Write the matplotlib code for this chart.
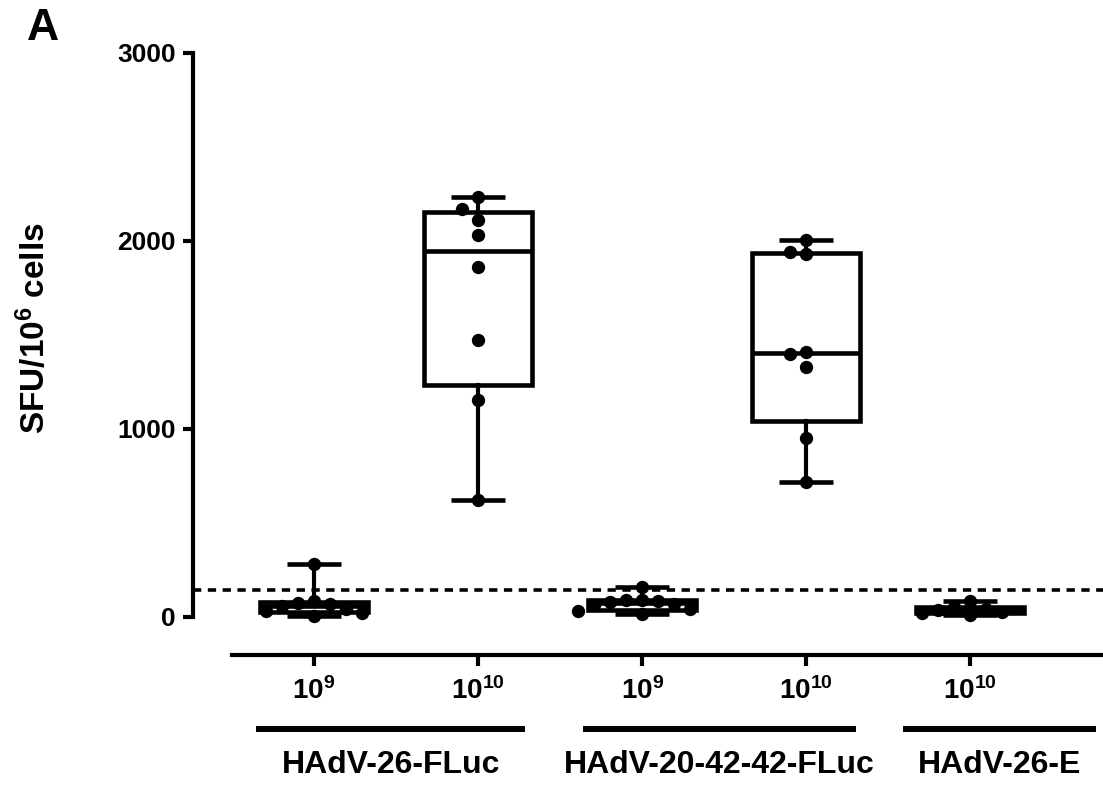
import numpy as np
import matplotlib.pyplot as plt

plt.rcParams['font.family'] = ['Liberation Sans', 'DejaVu Sans']
plt.rcParams['font.weight'] = 'bold'
plt.rcParams['mathtext.fontset'] = 'custom'
plt.rcParams['mathtext.rm'] = 'Liberation Sans:bold'
plt.rcParams['mathtext.it'] = 'Liberation Sans:bold'
plt.rcParams['mathtext.bf'] = 'Liberation Sans:bold'

# SFU / 10^6 cells per animal
g1 = [5, 21, 32, 43, 60, 69, 75, 85, 283]        # HAdV-26-FLuc 10^9
g2 = [622, 1154, 1473, 1862, 2032, 2112, 2170, 2234]  # HAdV-26-FLuc 10^10
g3 = [15, 30, 40, 62, 70, 78, 85, 88, 92, 160]   # HAdV-20-42-42-FLuc 10^9
g4 = [718, 950, 1330, 1398, 1410, 1930, 1941, 2005]  # HAdV-20-42-42-FLuc 10^10
g5 = [10, 20, 25, 35, 45, 55, 85]                # HAdV-26-E 10^10
groups = [g1, g2, g3, g4, g5]
dose_labels = ['$10^{9}$', '$10^{10}$', '$10^{9}$', '$10^{10}$', '$10^{10}$']
vectors = ['HAdV-26-FLuc', 'HAdV-20-42-42-FLuc', 'HAdV-26-E']
vector_span = [(0.646, 2.287), (2.637, 4.305), (4.59, 5.77)]
cutoff = 145

fig = plt.figure(figsize=(11.03, 7.88), dpi=100)
ax = fig.add_axes([193 / 1103, 1 - 617 / 788, 1 - 193 / 1103, 564 / 788])
ax.set_xlim(0.262, 5.81)
ax.set_ylim(0, 3000)

pos = np.arange(1, len(groups) + 1)

# box stats: min-max whiskers, quartiles like Prism ((n+1)p)
stats = []
for vals in groups:
    v = np.array(vals, dtype=float)
    q1, med, q3 = np.percentile(v, [25, 50, 75], method='weibull')
    stats.append(dict(med=med, q1=q1, q3=q3, whislo=v.min(), whishi=v.max(), fliers=[]))

lw = 3.3
bp = ax.bxp(stats, positions=pos, widths=0.66, capwidths=0.33, patch_artist=True,
            showfliers=False,
            boxprops=dict(facecolor='white', edgecolor='black', linewidth=lw, joinstyle='miter'),
            medianprops=dict(color='black', linewidth=lw, solid_capstyle='butt'),
            whiskerprops=dict(color='black', linewidth=lw * 0.9),
            capprops=dict(color='black', linewidth=lw, solid_capstyle='butt'),
            zorder=2)
for key in ('boxes', 'medians', 'whiskers', 'caps'):
    for art in bp[key]:
        art.set_clip_on(False)


def swarm(vals, x0, diam=13.0, step=16.0):
    # simple beeswarm in pixel space
    tr = ax.transData
    px0, _ = tr.transform((x0, 0))
    placed = []
    out = []
    for v in vals:
        _, py = tr.transform((x0, v))
        k = 0
        while True:
            cand = [0] if k == 0 else [-k, k]
            ok = None
            for c in cand:
                cx = px0 + c * step
                if all((cx - a) ** 2 + (py - b) ** 2 >= diam ** 2 for a, b in placed):
                    ok = cx
                    break
            if ok is not None:
                placed.append((ok, py))
                out.append(tr.inverted().transform((ok, py))[0])
                break
            k += 1
    return out


for x0, vals in zip(pos, groups):
    order = sorted(vals, reverse=True)
    xs = swarm(order, x0)
    ax.scatter(xs, order, s=92, color='black', zorder=3, clip_on=False, linewidths=0)

ax.axhline(cutoff, color='black', lw=2.6, linestyle=(0, (2.3, 1.8)), zorder=1)

for s in ('top', 'right'):
    ax.spines[s].set_visible(False)
ax.spines['left'].set_bounds(0, 3000)
ax.spines['left'].set_linewidth(3)
ax.spines['bottom'].set_position(('outward', 27.4))
ax.spines['bottom'].set_bounds(0.5, 5.81)
ax.spines['bottom'].set_linewidth(3)

ax.set_yticks([0, 1000, 2000, 3000])
ax.set_xticks(pos)
ax.set_xticklabels(dose_labels, fontsize=20)
ax.tick_params(axis='y', labelsize=19, length=7, width=3, pad=5.5)
ax.tick_params(axis='x', length=7.9, width=3, pad=8)

tr = ax.get_xaxis_transform()
for name, (a, b) in zip(vectors, vector_span):
    ax.plot([a, b], [-0.1986, -0.1986], transform=tr, color='black', lw=4.3,
            solid_capstyle='butt', clip_on=False)
    ax.text((a + b) / 2, -0.262, name, transform=tr, ha='center', va='center', fontsize=23)

fig.text(34 / 1103, 1 - 222 / 788, 'SFU/10$^{6}$ cells', rotation=90, ha='center', va='top',
         fontsize=24)
fig.text(43 / 1103, 1 - 29 / 788, 'A', fontsize=32, ha='center', va='center')

fig.savefig('out.png', dpi=100)
